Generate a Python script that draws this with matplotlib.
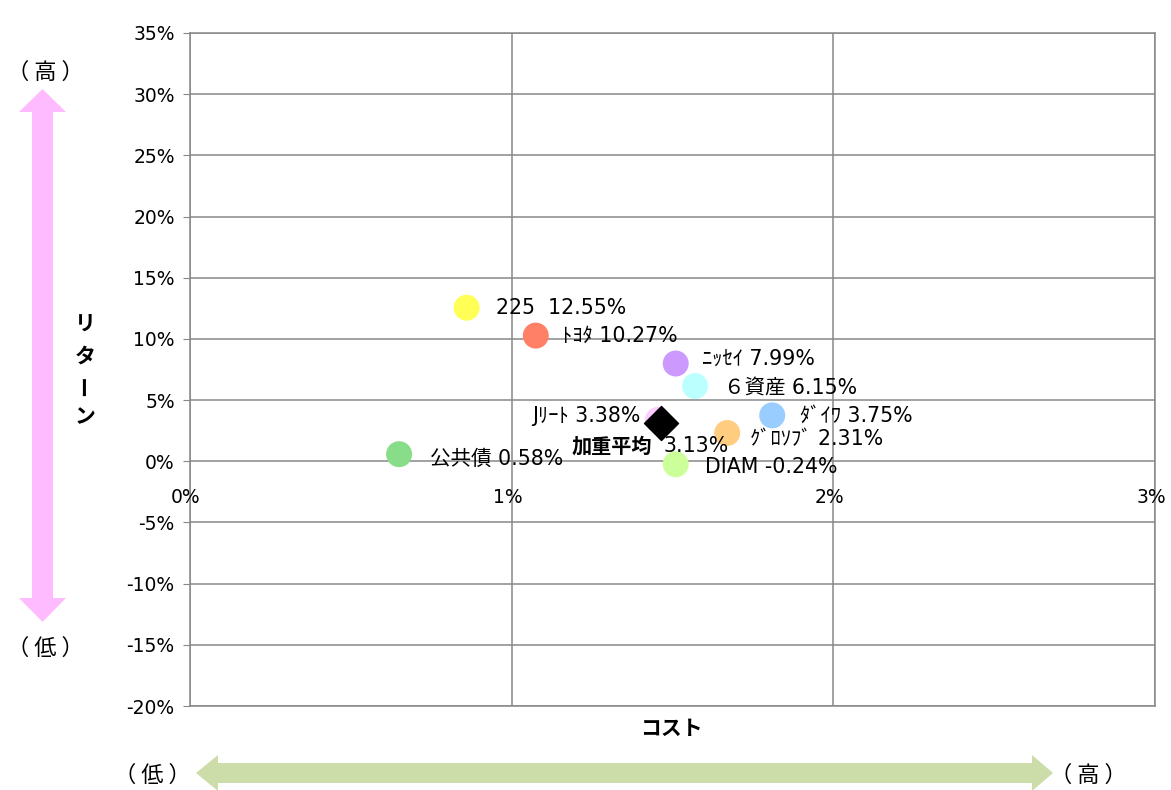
import matplotlib
matplotlib.use("Agg")
import matplotlib.pyplot as plt
from matplotlib.patches import Polygon

plt.rcParams['font.family'] = ['DejaVu Sans', 'Noto Sans CJK JP']
JP = ['Noto Sans CJK JP', 'DejaVu Sans']

# data (percent)
names = ['225', 'ﾄﾖﾀ', 'ﾆｯｾｲ', '６資産', 'ﾀﾞｲﾜ', 'Jﾘｰﾄ', 'ｸﾞﾛｿﾌﾞ', 'DIAM', '公共債']
cost = [0.86, 1.075, 1.51, 1.57, 1.81, 1.455, 1.67, 1.51, 0.65]
ret = [12.55, 10.27, 7.99, 6.15, 3.75, 3.38, 2.31, -0.24, 0.58]
colors = ['#FFFF55', '#FF8066', '#CC99FF', '#BBFFFF', '#99CCFF',
          '#FFCCFF', '#FFCC80', '#CCFF99', '#88DD88']
avg_cost = 1.465
avg_ret = 3.13

x_ticks = [0, 1, 2, 3]
y_ticks = list(range(-20, 40, 5))

# label offsets in pixels (dx, dy, ha)
offsets = [(29, 0, 'left'), (26, 0, 'left'), (26, 5, 'left'), (29, -2, 'left'),
           (28, 0, 'left'), (-18, 4, 'right'), (23, -6, 'left'), (29, -3, 'left'),
           (31, -5, 'left')]

fig = plt.figure(figsize=(11.71, 7.9), dpi=100)
W, H = 1171, 790
ax = fig.add_axes([190 / W, 1 - 706 / H, 965 / W, 673 / H])

ax.set_xlim(0, 3)
ax.set_ylim(-20, 35)
ax.set_xticks(x_ticks)
ax.set_yticks(y_ticks)
ax.set_yticklabels([f'{v}%' for v in y_ticks], fontsize=13.5)
ax.set_xticklabels([])
ax.tick_params(axis='x', length=0)
ax.tick_params(axis='y', length=5, color='#888888', pad=6)
ax.grid(True, color='#888888', linewidth=1.1)
ax.set_axisbelow(True)
for s in ax.spines.values():
    s.set_color('#888888')
    s.set_linewidth(1.1)

for v in x_ticks:
    ax.annotate(f'{v}%', xy=(v, 0), xytext=(-4, -36), textcoords='offset pixels',
                ha='center', va='center', fontsize=13.5, annotation_clip=False)

ax.scatter(cost, ret, s=350, c=colors, edgecolors='none', zorder=3)
ax.scatter([avg_cost], [avg_ret], s=300, marker='D', c='black', zorder=4)

for n, cx, ry, (dx, dy, ha) in zip(names, cost, ret, offsets):
    ax.annotate(f'{n} {ry:.2f}%' if n != '225' else f'{n}  {ry:.2f}%',
                xy=(cx, ry), xytext=(dx, dy), textcoords='offset pixels',
                ha=ha, va='center', fontsize=14.8, zorder=5)

ax.annotate('加重平均', xy=(avg_cost, avg_ret), xytext=(-90, -23),
            textcoords='offset pixels', ha='left', va='center',
            fontsize=14.5, fontweight='bold', family=JP, zorder=5)
ax.annotate(f'{avg_ret:.2f}%', xy=(avg_cost, avg_ret), xytext=(2, -23),
            textcoords='offset pixels', ha='left', va='center',
            fontsize=14.8, zorder=5)

def px(x, y):
    return (x / W, 1 - y / H)

# pink vertical arrow
pink = [(42.5, 89), (66, 112), (53, 112), (53, 598), (66, 598), (42.5, 622),
        (19, 598), (32, 598), (32, 112), (19, 112)]
fig.add_artist(Polygon([px(*p) for p in pink], closed=True,
                       facecolor='#FFBBFF', edgecolor='none',
                       transform=fig.transFigure))
# green horizontal arrow
green = [(196, 773), (218, 755), (218, 763), (1032, 763), (1032, 755), (1053, 773),
         (1032, 791), (1032, 783), (218, 783), (218, 791)]
fig.add_artist(Polygon([px(*p) for p in green], closed=True,
                       facecolor='#CCDDAA', edgecolor='none',
                       transform=fig.transFigure))

for x, y, t in [(45, 72, '（ 高 ）'), (45, 648, '（ 低 ）'),
                (152, 775, '（ 低 ）'), (1088, 775, '（ 高 ）')]:
    fig.text(*px(x, y), t, ha='center', va='center', fontsize=16, family=JP)

for ch, yy, rot in [('リ', 323, 0), ('タ', 356, 0), ('ー', 386, 90), ('ン', 417, 0)]:
    fig.text(*px(85, yy), ch, ha='center', va='center', fontsize=15,
             fontweight='bold', rotation=rot, family=JP)
fig.text(*px(671, 728), 'コスト', ha='center', va='center', fontsize=15,
         fontweight='bold', family=JP)

fig.savefig('out.png', dpi=100)
